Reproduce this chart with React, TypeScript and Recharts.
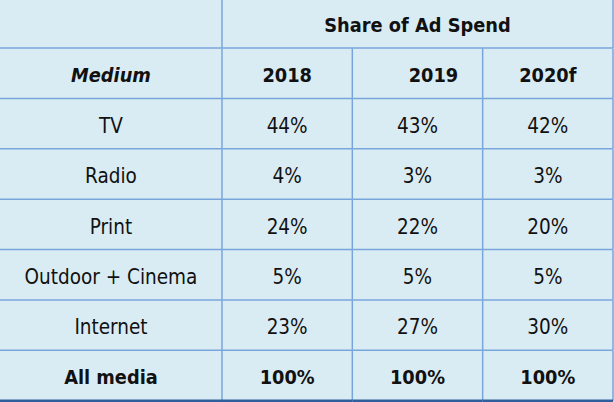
import { BarChart, Bar, XAxis, YAxis } from 'recharts';

const TITLE = 'Share of Ad Spend';
const FIRST_HEADER = 'Medium';
const YEARS = ['2018', '2019', '2020f'];
const MEDIA = ['TV', 'Radio', 'Print', 'Outdoor + Cinema', 'Internet', 'All media'];
const SHARE_2018 = [44, 4, 24, 5, 23, 100];
const SHARE_2019 = [43, 3, 22, 5, 27, 100];
const SHARE_2020F = [42, 3, 20, 5, 30, 100];

const BG = '#daecf3';
const GRID = '#78a6dc';
const DARK = '#2f5e9c';
const FONT = "'DejaVu Sans Condensed', 'DejaVu Sans', sans-serif";
// first column is wider than the year columns
const FIRST_COL = 1.703;
const HEADER_DX = [0, 0, 16, 0];

type Row = {
    key: string;
    kind: 'title' | 'head' | 'body' | 'total';
    cells: string[];
    w0: number;
    w1: number;
    w2: number;
    w3: number;
};

const pct = (v: number) => `${v}%`;

const rows: Row[] = [
    { key: 'title', kind: 'title', cells: ['', TITLE, '', ''], w0: FIRST_COL, w1: 3, w2: 0, w3: 0 },
    { key: 'head', kind: 'head', cells: [FIRST_HEADER, ...YEARS], w0: FIRST_COL, w1: 1, w2: 1, w3: 1 },
    ...MEDIA.map((m, i) => ({
        key: m,
        kind: (i === MEDIA.length - 1 ? 'total' : 'body') as Row['kind'],
        cells: [m, pct(SHARE_2018[i]), pct(SHARE_2019[i]), pct(SHARE_2020F[i])],
        w0: FIRST_COL,
        w1: 1,
        w2: 1,
        w3: 1,
    })),
];

const cellShape = (col: number) => (props: any) => {
    const { x, y, width, height, payload } = props;
    if (!(width > 0.5)) return <g />;
    const row = payload as Row;
    const last = row.kind === 'total';
    const bold = row.kind !== 'body';
    const italic = row.kind === 'head' && col === 0;
    const dx = row.kind === 'head' ? HEADER_DX[col] : 0;
    return (
        <g>
            <line x1={x + width} x2={x + width} y1={y} y2={y + height} stroke={GRID} strokeWidth={1.5} />
            <line
                x1={x}
                x2={x + width}
                y1={y + height}
                y2={y + height}
                stroke={last ? DARK : GRID}
                strokeWidth={last ? 2.5 : 1.5}
            />
            <text
                x={x + width / 2 + dx}
                y={y + height / 2 + 2}
                textAnchor="middle"
                dominantBaseline="central"
                fontFamily={FONT}
                fontSize={bold ? 19.8 : 20.5}
                fontWeight={bold ? 'bold' : 'normal'}
                fontStyle={italic ? 'italic' : 'normal'}
                fill="#111"
            >
                {row.cells[col]}
            </text>
        </g>
    );
};

export default function App() {
    return (
        <div style={{ position: 'absolute', left: 0, top: 0, width: 614, height: 402, background: BG }}>
            <BarChart
                layout="vertical"
                width={614}
                height={402}
                data={rows}
                barCategoryGap={0}
                barGap={0}
                margin={{ top: -2, right: 1, bottom: 1, left: 0 }}
            >
                <XAxis type="number" hide domain={[0, FIRST_COL + 3]} />
                <YAxis type="category" dataKey="key" hide />
                <Bar dataKey="w0" stackId="row" isAnimationActive={false} shape={cellShape(0)} />
                <Bar dataKey="w1" stackId="row" isAnimationActive={false} shape={cellShape(1)} />
                <Bar dataKey="w2" stackId="row" isAnimationActive={false} shape={cellShape(2)} />
                <Bar dataKey="w3" stackId="row" isAnimationActive={false} shape={cellShape(3)} />
            </BarChart>
        </div>
    );
}
